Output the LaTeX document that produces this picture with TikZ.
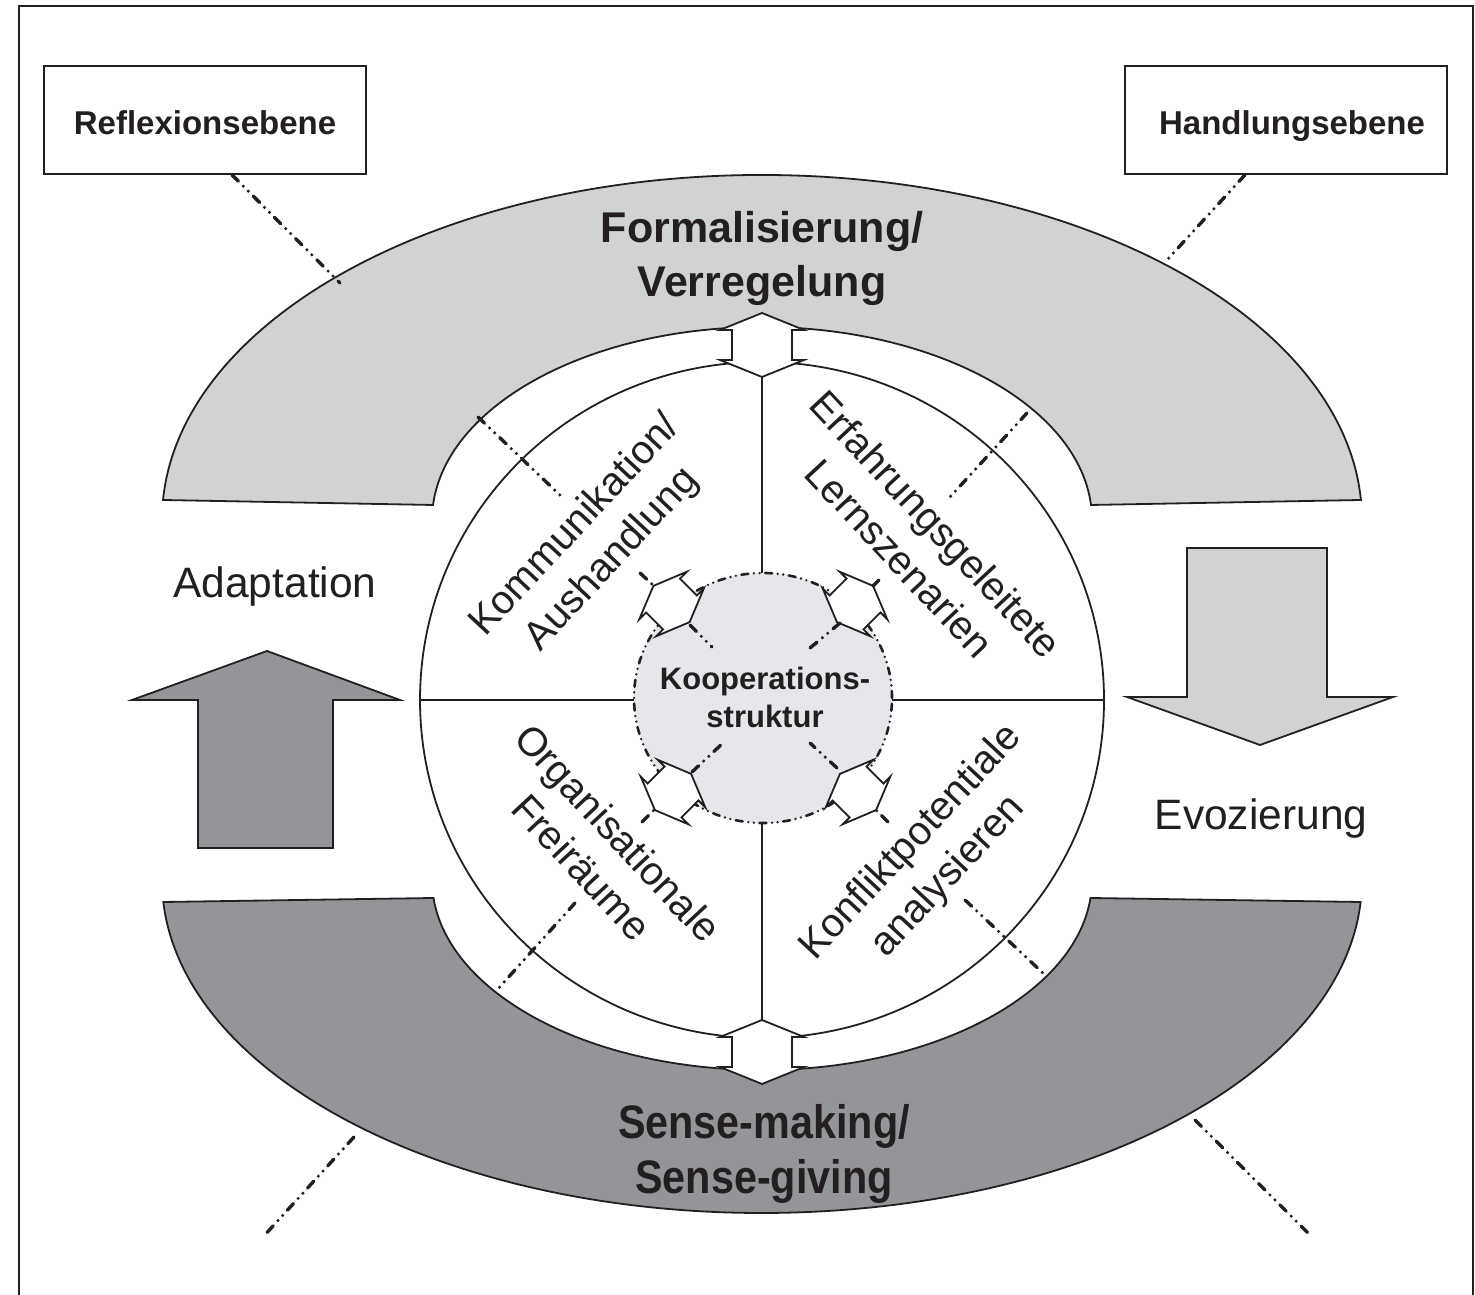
\documentclass[tikz,border=0pt]{standalone}
\usepackage{fontspec}
\usepackage{graphicx}
\setmainfont{Liberation Sans}
\definecolor{bandlight}{HTML}{D1D2D4}
\definecolor{banddark}{HTML}{939598}
\definecolor{corefill}{HTML}{E6E7EB}
\definecolor{ink}{HTML}{231F20}
\tikzset{
  outline/.style={draw=ink, line width=0.9pt},
  dd/.style={draw=ink, line width=1.7pt, line cap=round,
    dash pattern=on 4.5pt off 3.5pt on 0pt off 3.5pt on 0pt off 3.5pt},
  ddthin/.style={draw=ink, line width=1.3pt, line cap=round,
    dash pattern=on 3.5pt off 2.8pt on 0pt off 2.8pt on 0pt off 2.8pt},
  box/.style={draw=ink, line width=0.9pt, fill=white, minimum width=161pt,
    minimum height=54pt, inner sep=0pt, text=ink, text height=15pt, text depth=0pt,
    font=\fontsize{16.5pt}{19pt}\selectfont\bfseries},
  bigbold/.style={text=ink, align=center, inner sep=0pt,
    font=\fontsize{21.5pt}{27pt}\selectfont\bfseries},
  sidelabel/.style={text=ink, inner sep=0pt,
    font=\fontsize{21.25pt}{25pt}\selectfont},
  quad/.style={text=ink, align=center, inner sep=0pt,
    font=\fontsize{20pt}{25pt}\selectfont},
  corelabel/.style={text=ink, align=center, inner sep=0pt,
    font=\fontsize{15.5pt}{19pt}\selectfont\bfseries},
  dblarrow/.pic={
    \filldraw[fill=white, draw=ink, line width=0.9pt]
      (32,0) -- (15,42) -- (15,30) -- (-15,30) -- (-15,42) -- (-32,0)
      -- (-15,-42) -- (-15,-30) -- (15,-30) -- (15,-42) -- cycle;
  }
}
\begin{document}
\begin{tikzpicture}[x=0.5pt, y=0.5pt, line join=miter]
\useasboundingbox (0,0) rectangle (1475,1294);
\fill[white] (0,0) rectangle (1475,1294);

% frame
\draw[draw=ink, line width=1pt] (19,-10) -- (19,1288) -- (1473,1288) -- (1473,-10);

% top band
\draw[outline, fill=bandlight] (163,794)
  arc[start angle=176.68, end angle=3.32, x radius=600, y radius=345]
  -- (1091,789)
  arc[start angle=4.46, end angle=175.54, x radius=330, y radius=193]
  -- cycle;
% bottom band
\draw[outline, fill=banddark] (163.3,392)
  arc[start angle=183.79, end angle=356.21, x radius=600, y radius=333]
  -- (1090.5,396)
  arc[start angle=354.56, end angle=185.44, x radius=330, y radius=190]
  -- cycle;

% main circle and quadrant lines
\draw[outline, fill=white] (762,594) ellipse [x radius=342, y radius=338];
\draw[outline] (420,594) -- (1104,594);
\draw[outline] (762,256) -- (762,932);

% inner circle
\filldraw[ddthin, fill=corefill] (763,596) ellipse [x radius=129, y radius=125];

% double arrows
\pic[rotate=90] at (762,949) {dblarrow};
\pic[rotate=90] at (762,242) {dblarrow};
\pic[rotate=135, scale=0.8] at (671.5,690) {dblarrow};
\pic[rotate=45, scale=0.8] at (855,690) {dblarrow};
\pic[rotate=225, scale=0.8] at (673,502) {dblarrow};
\pic[rotate=315, scale=0.8] at (858,502) {dblarrow};

% dash-dot guide lines inside
\draw[dd] (478,877) -- (562,797);
\draw[dd] (1027,881) -- (950,797);
\draw[dd] (575,391) -- (497,304);
\draw[dd] (965,394) -- (1045,319);
\draw[dd] (640,721) -- (654,708);
\draw[dd] (879,714) -- (873,708);
\draw[dd] (642,472) -- (655,485);
\draw[dd] (888,472) -- (876,484);
\draw[dd] (690,669) -- (712,647);
\draw[dd] (840,671) -- (810,646);
\draw[dd] (692,522) -- (723,551);
\draw[dd] (837,526) -- (810,551);

% outer bottom dash lines
\coordinate (blA) at (354,157);
\coordinate (blB) at (263,57);
\coordinate (brA) at (1195,174);
\coordinate (brB) at (1308,61);
\draw[dd] (blA) -- (blB);
\draw[dd] (brA) -- (brB);

% side arrows
\draw[outline, fill=banddark] (267,643) -- (400,594) -- (333,594) -- (333,446)
  -- (198,446) -- (198,594) -- (132,594) -- cycle;
\draw[outline, fill=bandlight] (1260,549) -- (1393,597) -- (1327,597) -- (1327,746)
  -- (1187,746) -- (1187,597) -- (1127,597) -- cycle;

% boxes
\node[box] (refl) at (205,1174) {Reflexionsebene};
\node[box] (hand) at (1286,1174) {\hspace*{6pt}Handlungsebene};
\coordinate (reflEnd) at (340,1011);
\coordinate (handEnd) at (1167,1034);
\draw[dd] ([xshift=13.5pt]refl.south) -- (reflEnd);
\draw[dd] ([xshift=-20.5pt]hand.south) -- (handEnd);

% labels
\node[bigbold] (formal) at (762,1036) {Formalisierung/\\Verregelung};
\node[text=ink, align=center, inner sep=0pt,
  font=\fontsize{23.5pt}{27.5pt}\selectfont\bfseries] (sense) at (764,140)
  {\scalebox{0.88}[1]{Sense-making/}\\\scalebox{0.88}[1]{Sense-giving}};
\node[sidelabel] (adapt) at (275,707) {Adaptation};
\node[sidelabel] (evoz) at (1261,475) {Evozierung};
\node[corelabel] (koop) at (765,597) {Kooperations-\\struktur};
\node[quad, rotate=47] (komm) at (594,751) {Kommunikation/\\Aushandlung};
\node[quad, rotate=-47] (erf) at (918,753) {Erfahrungsgeleitete\\Lernszenarien};
\node[quad, rotate=-47] (org) at (600,444) {Organisationale\\Freiräume};
\node[quad, rotate=47] (konf) at (930,434) {Konfliktpotentiale\\analysieren};
\end{tikzpicture}
\end{document}
